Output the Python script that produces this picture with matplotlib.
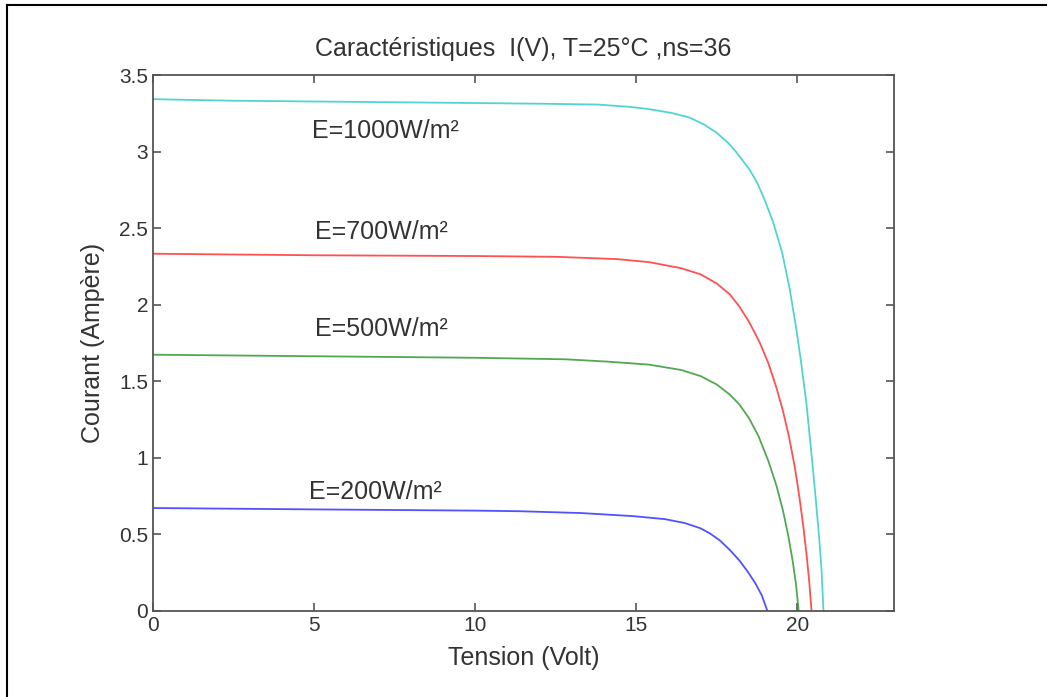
import matplotlib.pyplot as plt
from matplotlib.lines import Line2D

plt.rcParams['font.family'] = ['Liberation Sans', 'DejaVu Sans']

# I(V) curves: (tension V, courant A)
v_1000 = [0, 2.5, 5, 7.5, 10, 12.2, 13.8, 14.8, 15.4, 16.1, 16.65, 17.1, 17.5, 17.85, 18.1, 18.5, 18.75,
          18.98, 19.25, 19.53, 19.75, 19.97, 20.12, 20.28, 20.47, 20.58, 20.68, 20.75, 20.81]
i_1000 = [3.345, 3.335, 3.33, 3.325, 3.32, 3.315, 3.31, 3.295, 3.28, 3.255, 3.225, 3.18, 3.125, 3.06, 3.0, 2.89, 2.8,
          2.69, 2.54, 2.34, 2.12, 1.84, 1.62, 1.36, 0.96, 0.71, 0.47, 0.27, 0.0]

v_700 = [0, 5, 10, 12.5, 14.4, 15.4, 16.4, 17.0, 17.5, 17.9, 18.2, 18.5, 18.82, 19.1, 19.35, 19.55,
         19.75, 19.92, 20.06, 20.18, 20.28, 20.37, 20.44]
i_700 = [2.335, 2.325, 2.32, 2.315, 2.30, 2.28, 2.24, 2.20, 2.14, 2.07, 1.99, 1.89, 1.76, 1.62, 1.46, 1.31,
         1.13, 0.94, 0.75, 0.56, 0.38, 0.19, 0.0]

v_500 = [0, 5, 10, 12.8, 14.1, 15.4, 16.4, 17.0, 17.5, 17.9, 18.2, 18.5, 18.8, 19.1, 19.35, 19.55,
         19.72, 19.86, 19.96, 20.04]
i_500 = [1.675, 1.665, 1.655, 1.645, 1.63, 1.61, 1.575, 1.535, 1.48, 1.415, 1.35, 1.26, 1.14, 0.98, 0.82, 0.66,
         0.49, 0.32, 0.17, 0.0]

v_200 = [0, 5, 10, 11.4, 13.3, 14.9, 15.9, 16.5, 17.0, 17.3, 17.6, 17.9, 18.2, 18.45, 18.7, 18.9, 19.07]
i_200 = [0.673, 0.664, 0.656, 0.652, 0.64, 0.62, 0.60, 0.575, 0.54, 0.505, 0.46, 0.40, 0.33, 0.26, 0.18, 0.10, 0.0]

labels = ['E=1000W/m²', 'E=700W/m²', 'E=500W/m²', 'E=200W/m²']
label_pos = [(7.2, 3.14), (7.1, 2.48), (7.1, 1.84), (6.9, 0.78)]
colors = ['#33cccc', '#ff3333', '#339933', '#3333ff']

fig = plt.figure(figsize=(10.54, 6.97), dpi=100)
ax = fig.add_axes([0.1452, 0.1234, 0.7030, 0.7683])

txt = '#333333'
for v, i, c in zip([v_1000, v_700, v_500, v_200], [i_1000, i_700, i_500, i_200], colors):
    ax.plot(v, i, color=c, lw=1.3, alpha=0.85)

for lab, (x, y) in zip(labels, label_pos):
    ax.text(x, y, lab, fontsize=18, color=txt, ha='center', va='center')

ax.set_xlim(0, 23)
ax.set_ylim(0, 3.5)
ax.set_xticks([0, 5, 10, 15, 20])
ax.set_yticks([0, 0.5, 1, 1.5, 2, 2.5, 3, 3.5])
ax.set_yticklabels(['0', '0.5', '1', '1.5', '2', '2.5', '3', '3.5'])
ax.tick_params(direction='in', length=6, width=1.2, colors='#555555',
               labelcolor=txt, labelsize=15, top=True, right=True)
for s in ax.spines.values():
    s.set_color('#555555')
    s.set_linewidth(1.3)

ax.set_title('Caractéristiques  I(V), T=25°C ,ns=36', fontsize=18, color=txt, pad=14)
ax.set_xlabel('Tension (Volt)', fontsize=18, color=txt, labelpad=8)
ax.set_ylabel('Courant (Ampère)', fontsize=18, color=txt, labelpad=10)

# outer frame of the figure
fig.add_artist(Line2D([7 / 1054, 7 / 1054], [0, 1 - 5 / 697], color='black', lw=1.5))
fig.add_artist(Line2D([7 / 1054, 1046 / 1054], [1 - 5 / 697, 1 - 5 / 697], color='black', lw=1.5))

fig.savefig('out.png', dpi=100)
